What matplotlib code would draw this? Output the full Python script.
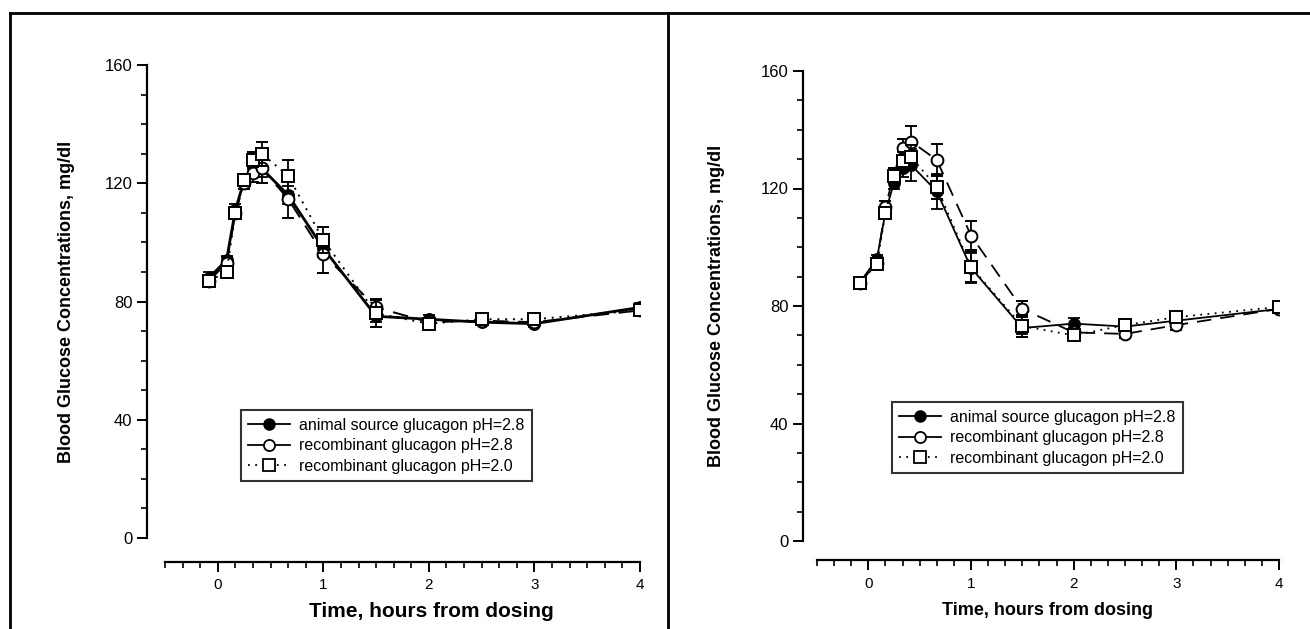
import matplotlib
matplotlib.use("Agg")
import matplotlib.pyplot as plt
from matplotlib.lines import Line2D
from matplotlib.ticker import MultipleLocator

plt.rcParams['font.family'] = ['Liberation Sans', 'DejaVu Sans']

# time points (hours from dosing)
time = [-0.083, 0.083, 0.167, 0.25, 0.333, 0.417, 0.667, 1.0, 1.5, 2.0, 2.5, 3.0, 4.0]

labels = ["animal source glucagon pH=2.8",
          "recombinant glucagon pH=2.8",
          "recombinant glucagon pH=2.0"]

# Left panel
left_animal = [88, 94, 111, 121, 125, 125, 116, 98, 75, 74, 73, 72.5, 78]
left_animal_err = [2, 1.5, 2, 2, 2, 3, 3, 3, 2, 1.5, 1, 1, 1.5]
left_rec28 = [87, 93, 110, 120, 123.5, 125, 114.7, 96, 78, 73, 73.5, 73, 77]
left_rec28_err = [2, 2, 2, 2, 3, 5, 6.5, 6.4, 3, 1.5, 1, 1, 1.5]
left_rec20 = [87, 90, 110, 121, 128, 130, 122.5, 100.8, 76, 72.5, 74, 74, 77]
left_rec20_err = [2, 2, 2, 2, 2.5, 4, 5.5, 4.3, 4.5, 1.5, 1, 1, 1.5]

# Right panel
right_animal = [88, 96, 112, 122, 127, 128, 119, 93, 72.5, 74, 73, 75, 79]
right_animal_err = [1.5, 1.5, 2, 2, 3, 5.5, 6, 5, 2, 2, 1.5, 1.5, 1]
right_rec28 = [88, 94.5, 113.7, 125, 133.8, 136, 129.7, 104, 79, 71, 70.5, 73.5, 79]
right_rec28_err = [1.5, 1.5, 2, 2, 3, 5.3, 5.3, 5, 2.7, 1.5, 1.5, 1.5, 1]
right_rec20 = [87.8, 94.3, 111.6, 124.3, 129.4, 130.7, 120.5, 93.3, 73.2, 70, 73.5, 76.2, 79.7]
right_rec20_err = [1.5, 1.5, 2, 2, 3, 4, 4, 5, 3.7, 1.5, 1.5, 1.5, 1]

yticks = [0, 40, 80, 120, 160]
xticks = [0, 1, 2, 3, 4]

W, H = 1310, 629
fig = plt.figure(figsize=(W / 100, H / 100), dpi=100)


def px_axes(x0, x1, ytop, ybot):
    return fig.add_axes([x0 / W, 1 - ybot / H, (x1 - x0) / W, (ybot - ytop) / H])


def style(ax, yout, xout):
    ax.set_xlim(-0.5, 4)
    ax.set_ylim(0, 160)
    for s in ('top', 'right'):
        ax.spines[s].set_visible(False)
    ax.spines['left'].set_position(('outward', yout))
    ax.spines['bottom'].set_position(('outward', xout))
    ax.spines['left'].set_linewidth(1.6)
    ax.spines['bottom'].set_linewidth(1.6)
    ax.set_yticks(yticks)
    ax.set_xticks(xticks)
    ax.yaxis.set_minor_locator(MultipleLocator(10))
    ax.xaxis.set_minor_locator(MultipleLocator(1 / 6))
    ax.tick_params(which='major', direction='out', length=7, width=1.4, labelsize=12)
    ax.tick_params(which='minor', direction='out', length=4, width=1.2)
    ax.tick_params(axis='x', labelsize=11, pad=5)


def draw(ax, a, ae, r, re, s, se, lw_a, lw_o):
    ekw = dict(ecolor='black', elinewidth=1.3, capsize=4.5, capthick=1.3)
    ax.errorbar(time, a, yerr=ae, color='black', lw=lw_a, ls='-', marker='o',
                ms=8, mfc='black', mec='black', mew=1.3, zorder=3, **ekw)
    ax.errorbar(time, r, yerr=re, color='black', lw=lw_o, ls=(0, (8, 5)), marker='o',
                ms=8.5, mfc='white', mec='black', mew=1.4, zorder=4, **ekw)
    ax.errorbar(time, s, yerr=se, color='black', lw=lw_o, ls=(0, (1, 3)), marker='s',
                ms=8, mfc='white', mec='black', mew=1.4, zorder=5, **ekw)


def legend(ax, x, y):
    handles = [
        Line2D([], [], color='black', lw=1.3, ls='-', marker='o', ms=8,
               mfc='black', mec='black'),
        Line2D([], [], color='black', lw=1.3, ls='-', marker='o', ms=8,
               mfc='white', mec='black', mew=1.3),
        Line2D([], [], color='black', lw=1.3, ls=(0, (1, 3)), marker='s', ms=8,
               mfc='white', mec='black', mew=1.3),
    ]
    leg = ax.legend(handles, labels, loc='lower left',
                    bbox_to_anchor=(x / W, 1 - y / H), bbox_transform=fig.transFigure,
                    borderaxespad=0, fontsize=11.5, frameon=True, fancybox=False,
                    edgecolor='black', handlelength=2.6, handletextpad=0.6,
                    labelspacing=0.35, borderpad=0.45)
    leg.get_frame().set_linewidth(1.5)


# left panel
axL = px_axes(165, 640, 65, 538)
style(axL, 13, 17)
draw(axL, left_animal, left_animal_err, left_rec28, left_rec28_err,
     left_rec20, left_rec20_err, 2.0, 1.4)
axL.set_ylabel("Blood Glucose Concentrations, mg/dl", fontsize=13, fontweight='bold')
axL.yaxis.set_label_coords(-0.19, 0.5)
axL.set_xlabel("Time, hours from dosing", fontsize=15, fontweight='bold')
axL.xaxis.set_label_coords(0.56, -0.135)
legend(axL, 241, 481)

# right panel
axR = px_axes(817, 1279, 71, 541)
style(axR, 10, 14)
draw(axR, right_animal, right_animal_err, right_rec28, right_rec28_err,
     right_rec20, right_rec20_err, 1.3, 1.3)
axR.set_ylabel("Blood Glucose Concentrations, mg/dl", fontsize=13, fontweight='bold')
axR.yaxis.set_label_coords(-0.2, 0.5)
axR.set_xlabel("Time, hours from dosing", fontsize=13, fontweight='bold')
axR.xaxis.set_label_coords(0.5, -0.13)
legend(axR, 892, 473)

# panel frames
fig.add_artist(Line2D([10 / W, 1.0], [1 - 13 / H, 1 - 13 / H], color='black', lw=2,
                      transform=fig.transFigure))
fig.add_artist(Line2D([10 / W, 10 / W], [0, 1 - 13 / H], color='black', lw=2,
                      transform=fig.transFigure))
fig.add_artist(Line2D([668 / W, 668 / W], [0, 1 - 13 / H], color='black', lw=2,
                      transform=fig.transFigure))

fig.savefig("out.png", dpi=100)
